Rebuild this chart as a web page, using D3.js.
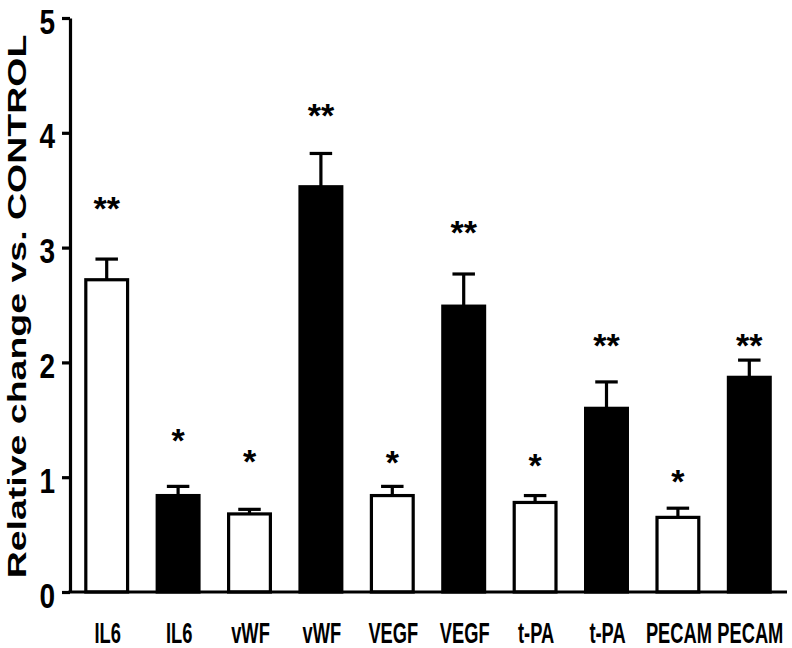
<!DOCTYPE html>
<html>
<head>
<meta charset="utf-8">
<script src="https://cdn.jsdelivr.net/npm/d3@7"></script>
<style>
  html, body { margin: 0; padding: 0; background: #fff; }
  svg { display: block; }
</style>
</head>
<body>
<svg id="chart" width="792" height="648"></svg>
<script>
// ---- data ----
const categories = ["IL6", "IL6", "vWF", "vWF", "VEGF", "VEGF", "t-PA", "t-PA", "PECAM", "PECAM"];
const groups     = ["white", "black", "white", "black", "white", "black", "white", "black", "white", "black"];
const values     = [2.72, 0.84, 0.68, 3.53, 0.84, 2.49, 0.78, 1.60, 0.65, 1.87];
const errorTops  = [2.90, 0.92, 0.72, 3.82, 0.92, 2.77, 0.84, 1.83, 0.73, 2.02];
const sigLabels  = ["**", "*", "*", "**", "*", "**", "*", "**", "*", "**"];
const sigLevels  = [3.41, 1.39, 1.21, 4.22, 1.20, 3.20, 1.17, 2.22, 1.03, 2.22];
const yTicks     = [0, 1, 2, 3, 4, 5];
const yTitle     = "Relative change vs. CONTROL";

// ---- layout ----
const svg = d3.select("#chart");
const x = d3.scaleBand().domain(d3.range(categories.length)).range([71, 785])
  .paddingInner(0.37).paddingOuter(0.185);
const y = d3.scaleLinear().domain([0, 5]).range([592, 18]);
const sw = 3.2;

// bars
svg.append("g").selectAll("rect").data(values).join("rect")
  .attr("x", (d, i) => x(i) + sw / 2)
  .attr("y", d => y(d))
  .attr("width", x.bandwidth() - sw)
  .attr("height", d => y(0) - y(d))
  .attr("fill", (d, i) => groups[i] === "black" ? "#000" : "#fff")
  .attr("stroke", "#000")
  .attr("stroke-width", sw);

// error bars
const eb = svg.append("g").attr("stroke", "#000").attr("stroke-width", sw);
eb.selectAll("line.stem").data(errorTops).join("line").attr("class", "stem")
  .attr("x1", (d, i) => x(i) + x.bandwidth() / 2)
  .attr("x2", (d, i) => x(i) + x.bandwidth() / 2)
  .attr("y1", (d, i) => y(values[i]))
  .attr("y2", d => y(d));
eb.selectAll("line.cap").data(errorTops).join("line").attr("class", "cap")
  .attr("x1", (d, i) => x(i) + x.bandwidth() * 0.25)
  .attr("x2", (d, i) => x(i) + x.bandwidth() * 0.75)
  .attr("y1", d => y(d))
  .attr("y2", d => y(d));

// significance stars
const starFs = 34;
svg.append("g").selectAll("text").data(sigLabels).join("text")
  .attr("x", (d, i) => x(i) + x.bandwidth() / 2)
  .attr("y", (d, i) => y(sigLevels[i]) + 0.58 * starFs)
  .attr("text-anchor", "middle")
  .attr("font-family", "Liberation Sans, Arial, sans-serif")
  .attr("font-weight", "bold")
  .attr("font-size", starFs)
  .attr("fill", "#000")
  .text(d => d);

// y axis
const tickScaleX = 0.8;
const yAxis = svg.append("g").attr("transform", "translate(70,0)")
  .call(d3.axisLeft(y).tickValues(yTicks).tickFormat(d3.format("d")).tickSize(8).tickSizeOuter(0).tickPadding(7));
yAxis.select(".domain").attr("stroke-width", sw);
yAxis.selectAll(".tick line").attr("stroke-width", sw);
yAxis.selectAll(".tick text")
  .attr("font-family", "Liberation Sans, Arial, sans-serif")
  .attr("font-weight", "bold")
  .attr("font-size", 35)
  .attr("fill", "#000")
  .attr("dy", "0.43em")
  .attr("transform", `scale(${tickScaleX},1)`)
  .attr("x", -15 / tickScaleX);

// x axis
const xAxis = svg.append("g").attr("transform", `translate(0,${y(0)})`)
  .call(d3.axisBottom(x).tickFormat(i => categories[i]).tickSize(0).tickSizeOuter(0).tickPadding(30));
xAxis.select(".domain").attr("stroke-width", sw)
  .attr("d", `M${70 - sw / 2},0H787`);
xAxis.selectAll(".tick").attr("transform", (i) => `translate(${x(i) + x.bandwidth() / 2 + 1},0)`);
xAxis.selectAll(".tick text")
  .attr("font-family", "Liberation Sans, Arial, sans-serif")
  .attr("font-weight", "bold")
  .attr("font-size", 30)
  .attr("fill", "#000")
  .attr("x", 0)
  .attr("y", 51)
  .attr("dy", 0)
  .attr("transform", "scale(0.61,1)");

// y title
svg.append("text")
  .attr("transform", `translate(26,${(578 + 35) / 2}) rotate(-90) scale(1.5,1)`)
  .attr("text-anchor", "middle")
  .attr("font-family", "Liberation Sans, Arial, sans-serif")
  .attr("font-weight", "bold")
  .attr("font-size", 25)
  .attr("fill", "#000")
  .text(yTitle);
</script>
</body>
</html>
